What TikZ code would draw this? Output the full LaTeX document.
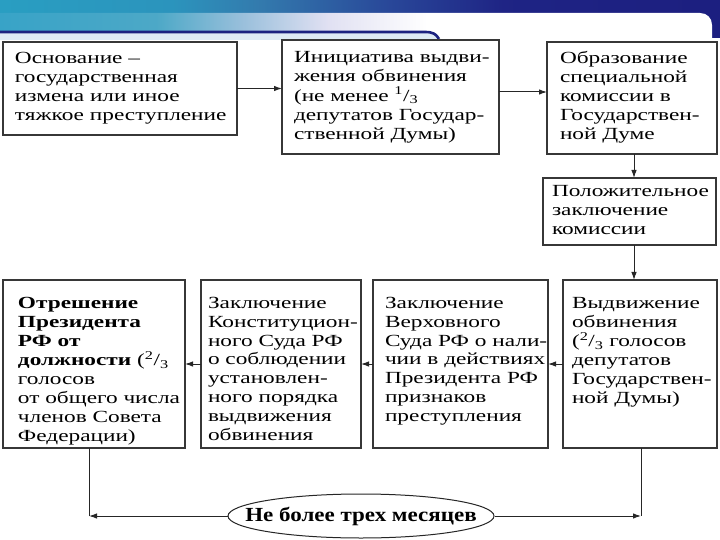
\documentclass[tikz,border=0pt]{standalone}
\usepackage{fontspec}
\setmainfont[FakeStretch=1.37]{Liberation Serif}
\newfontfamily\ellfont[FakeStretch=1.15]{Liberation Serif}
\usetikzlibrary{shapes.geometric,arrows.meta}
\definecolor{navy}{RGB}{28,34,128}
\definecolor{pale}{RGB}{222,234,244}
\definecolor{boxline}{RGB}{55,55,55}
\pgfdeclarehorizontalshading{bantop}{100bp}{rgb(0bp)=(0.16,0.62,0.76); rgb(25bp)=(0.16,0.62,0.76); rgb(37bp)=(0.17,0.58,0.74); rgb(43bp)=(0.2,0.48,0.68); rgb(52bp)=(0.16,0.28,0.6); rgb(60bp)=(0.12,0.14,0.52); rgb(75bp)=(0.11,0.12,0.5); rgb(100bp)=(0.11,0.12,0.5)}
\pgfdeclarehorizontalshading{banmid}{100bp}{rgb(0bp)=(0.22,0.64,0.78); rgb(25bp)=(0.22,0.64,0.78); rgb(36bp)=(0.3,0.66,0.78); rgb(42bp)=(0.6,0.75,0.86); rgb(48bp)=(0.88,0.88,0.95); rgb(55bp)=(1,1,1); rgb(75bp)=(1,1,1); rgb(100bp)=(1,1,1)}
% centred text: width, left pad, lines
\newcommand\ctext[3]{\hbox to #1{\hskip#2\begin{tabular}{@{}l@{}}#3\end{tabular}\hss}}
% top-aligned text: width, height, left pad, top pad, lines
\newcommand\ttext[5]{\vbox to #2{\vskip#4\hbox to #1{\hskip#3\begin{tabular}[t]{@{}l@{}}#5\end{tabular}\hss}\vss}}
\newcommand\frc[2]{\textsuperscript{#1}/\textsubscript{#2}}
\tikzset{
  box/.style={draw=boxline, line width=1.4bp, fill=white, inner sep=0pt, outer sep=0pt,
    font=\fontsize{17bp}{18.9bp}\selectfont, text=black},
  arr/.style={draw=black!85, line width=1bp, -{Latex[length=8bp,width=5.5bp]}},
  con/.style={draw=black!85, line width=1bp},
}
\begin{document}
\begin{tikzpicture}[x=1bp,y=-1bp]
\useasboundingbox (0,0) rectangle (720,540);
\fill[white] (0,0) rectangle (720,540);
% banner
\shade[shading=bantop] (0,0) rectangle (720,38);
\shade[shading=banmid] (0,13) -- (700,13) .. controls (707,13) and (712,18) .. (712,25) -- (712,40) -- (0,40) -- cycle;
\fill[pale] (0,33) rectangle (437,40);
\draw[navy, line width=2.6bp] (0,32) -- (425,32) .. controls (433,32) and (436,34) .. (439,39);

% top row
\node[box, minimum width=234bp, minimum height=93bp] (b1) at (120,88.5)
  {\ctext{234bp}{12bp}{Основание –\\государственная\\измена или иное\\тяжкое преступление}};
\node[box, minimum width=217bp, minimum height=114bp] (b2) at (390.5,97)
  {\ctext{217bp}{12bp}{Инициатива выдви-\\жения обвинения\\(не менее \frc{1}{3}\\депутатов Государ-\\ственной Думы)}};
\node[box, minimum width=170bp, minimum height=112bp] (b3) at (632,98)
  {\ctext{170bp}{13bp}{Образование\\специальной\\комиссии в\\Государствен-\\ной Думе}};
\node[box, minimum width=173bp, minimum height=67bp] (b4) at (629.5,211.5)
  {\ctext{173bp}{9bp}{Положительное\\заключение\\комиссии}};

% bottom row
\node[box, minimum width=182bp, minimum height=168bp] (ba) at (94,364)
  {\ttext{182bp}{168bp}{15bp}{15bp}{\textbf{Отрешение}\\\textbf{Президента}\\\textbf{РФ от}\\\textbf{должности} (\frc{2}{3}\\голосов\\от общего числа\\членов Совета\\Федерации)}};
\node[box, minimum width=160bp, minimum height=168bp] (bb) at (281,364)
  {\ttext{160bp}{168bp}{7bp}{15bp}{Заключение\\Конституцион-\\ного Суда РФ\\о соблюдении\\установлен-\\ного порядка\\выдвижения\\обвинения}};
\node[box, minimum width=175bp, minimum height=168bp] (bc) at (460.5,364)
  {\ttext{175bp}{168bp}{12bp}{15bp}{Заключение\\Верховного\\Суда РФ о нали-\\чии в действиях\\Президента РФ\\признаков\\преступления}};
\node[box, minimum width=154bp, minimum height=168bp] (bd) at (640,364)
  {\ttext{154bp}{168bp}{9bp}{15bp}{Выдвижение\\обвинения\\(\frc{2}{3} голосов\\депутатов\\Государствен-\\ной Думы)}};

% ellipse
\node[ellipse, draw=black!85, line width=1bp, fill=white, inner sep=0pt,
      minimum width=266bp, minimum height=44bp] (e) at (361,516) {};
\node[font=\ellfont\bfseries\fontsize{20bp}{24bp}\selectfont, text=black, inner sep=0pt] (et) at (e.center) {Не более трех месяцев};

% connectors
\draw[arr] (b1.east) -- (b1.east -| b2.west);
\draw[arr] ([yshift=5bp]b2.east) -- ([yshift=5bp]b2.east -| b3.west);
\draw[arr] ([xshift=2bp]b3.south) -- ([xshift=2bp]b3.south |- b4.north);
\draw[arr] ([xshift=4.5bp]b4.south) -- ([xshift=4.5bp]b4.south |- bd.north);
\draw[arr] (bd.west) -- (bc.east);
\draw[arr] (bc.west) -- (bb.east);
\draw[arr] (bb.west) -- (ba.east);
\coordinate (cl) at ([xshift=-5bp]ba.south |- e.west);
\coordinate (cr) at ([xshift=1bp]bd.south |- e.east);
\draw[con] ([xshift=-5bp]ba.south) -- (cl);
\draw[con] ([xshift=1bp]bd.south) -- (cr);
\draw[arr] (e.west) -- (cl);
\draw[arr] (e.east) -- (cr);
\end{tikzpicture}
\end{document}
